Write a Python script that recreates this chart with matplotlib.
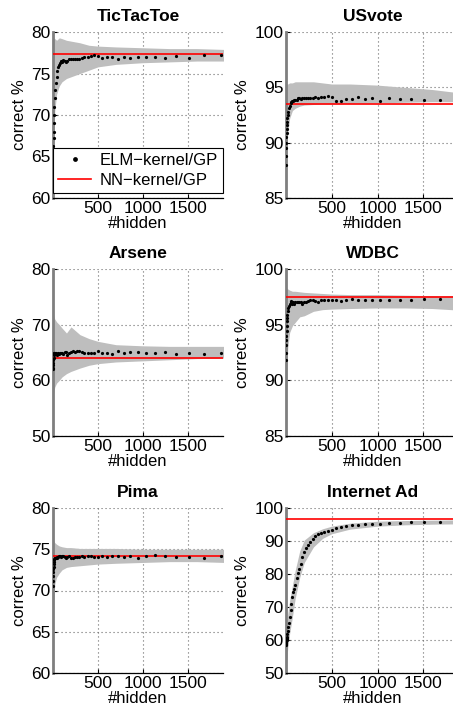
import matplotlib
matplotlib.use("Agg")
import matplotlib.pyplot as plt

plt.rcParams['font.family'] = ['Liberation Sans', 'DejaVu Sans']

# number of hidden neurons at which the ELM kernel was evaluated
HIDDEN = [1, 2, 3, 4, 5, 6, 8, 10, 12, 15, 20, 25, 30, 40, 50, 60, 70, 80, 90, 100,
          115, 130, 145, 160, 180, 200, 220, 240, 265, 290, 320, 350, 385, 420, 460,
          500, 550, 600, 660, 720, 790, 860, 940, 1030, 1130, 1240, 1370, 1510, 1680, 1870]

# x positions of the std band
BAND_X = [1, 3, 6, 10, 20, 40, 70, 100, 150, 200, 300, 400, 500, 700, 1000, 1300, 1600, 1900]

# TicTacToe
tictactoe_acc = [62.5, 63.5, 64.5, 65.5, 66.3, 67.2, 68.0, 69.0, 70.0, 71.0, 72.0, 73.0, 73.8, 74.6,
                 75.3, 75.8, 76.0, 76.3, 76.5, 76.4, 76.6, 76.5, 76.4, 76.5, 76.7, 76.7, 76.8, 76.7,
                 76.8, 76.8, 76.9, 77.0, 77.0, 77.1, 77.2, 77.1, 76.9, 77.0, 77.0, 76.8, 77.0, 76.9,
                 77.0, 77.0, 77.0, 76.9, 77.1, 76.9, 77.2, 77.2]
tictactoe_upper = [80, 79.8, 79.5, 79.3, 79.2, 79.0, 79.3, 79.2, 79.0, 78.9, 78.7, 78.4, 78.3, 78.2,
                   78.1, 78.0, 78.0, 77.9]
tictactoe_lower = [60, 62, 65, 67.5, 70.5, 72.5, 73.5, 74.0, 74.4, 74.6, 75.0, 75.4, 75.8, 76.1,
                   76.3, 76.4, 76.5, 76.5]
tictactoe_nn = 77.3

# USvote
usvote_acc = [88.0, 88.8, 89.5, 90.0, 90.5, 90.9, 91.2, 91.6, 91.9, 92.2, 92.5, 92.8, 93.1, 93.3,
              93.6, 93.7, 93.8, 93.8, 93.9, 93.9, 93.9, 94.0, 94.0, 93.95, 94.0, 94.0, 94.0, 94.05,
              94.0, 94.05, 94.1, 94.05, 94.1, 94.15, 94.2, 94.1, 93.8, 93.8, 93.95, 93.95, 94.1,
              93.95, 94.05, 93.8, 94.0, 93.95, 93.95, 93.9, 93.9, 93.9]
usvote_upper = [100, 96, 95.4, 95.3, 95.3, 95.4, 95.4, 95.5, 95.5, 95.5, 95.5, 95.4, 95.3, 95.3,
                95.2, 95.0, 94.8, 94.5]
usvote_lower = [85, 86, 88, 89.5, 91.0, 92.2, 92.9, 93.1, 93.3, 93.4, 93.45, 93.5, 93.5, 93.55,
                93.6, 93.65, 93.7, 93.7]
usvote_nn = 93.5

# Arsene
arsene_acc = [62.0, 62.3, 62.8, 63.2, 63.6, 64.0, 64.5, 64.8, 65.0, 65.0, 64.8, 65.0, 64.9, 64.6,
              64.8, 64.9, 64.7, 64.9, 65.0, 65.0, 64.8, 65.1, 65.1, 64.5, 65.0, 65.1, 65.2, 65.1,
              65.3, 65.2, 65.1, 65.0, 64.9, 64.9, 65.0, 65.2, 65.0, 64.9, 64.8, 65.3, 65.0, 65.1,
              65.1, 64.9, 64.9, 65.1, 64.8, 64.9, 64.7, 64.9]
arsene_upper = [73, 72.5, 72, 71.5, 71, 70.5, 70, 69.4, 68.5, 69.6, 68.2, 67.5, 67.0, 66.4,
                66.2, 66.1, 66.1, 66.1]
arsene_lower = [55, 56.5, 57.5, 58.0, 58.8, 59.5, 60.0, 60.6, 61.2, 61.6, 62.2, 62.7, 63.0, 63.3,
                63.5, 63.7, 63.9, 64.0]
arsene_nn = 64.0

# WDBC
wdbc_acc = [91.8, 92.5, 93.2, 93.6, 94.0, 94.4, 94.9, 95.3, 95.6, 95.9, 96.2, 96.5, 96.7, 96.9,
            97.0, 97.1, 96.9, 97.0, 96.9, 97.0, 97.0, 97.0, 97.0, 97.0, 96.9, 97.0, 97.0, 97.1,
            97.2, 97.2, 97.1, 97.0, 97.2, 97.2, 97.2, 97.2, 97.2, 97.1, 97.25, 97.3, 97.2, 97.2,
            97.2, 97.2, 97.2, 97.2, 97.2, 97.3, 97.3, 97.2]
wdbc_upper = [98.4, 98.4, 98.3, 98.3, 98.2, 98.1, 98.0, 98.0, 97.95, 97.9, 97.85, 97.8, 97.75,
              97.7, 97.7, 97.65, 97.6, 97.6]
wdbc_lower = [85, 87, 89, 91, 93, 94.3, 94.9, 95.2, 95.7, 95.8, 96.2, 96.35, 96.4, 96.45, 96.5,
              96.5, 96.45, 96.3]
wdbc_nn = 97.5

# Pima
pima_acc = [70.5, 71.1, 71.8, 72.3, 72.6, 72.9, 73.2, 73.5, 73.7, 73.8, 73.9, 74.0, 74.0, 74.0,
            74.1, 74.1, 74.2, 74.2, 74.1, 74.2, 74.2, 74.1, 74.0, 74.1, 74.2, 74.0, 74.0, 74.1,
            74.1, 74.1, 74.2, 74.1, 74.2, 74.2, 74.1, 74.1, 74.2, 74.1, 74.2, 74.2, 74.1, 74.2,
            74.0, 74.2, 74.3, 74.2, 74.1, 74.1, 74.0, 74.2]
pima_upper = [77, 76.5, 76.2, 76.0, 75.8, 75.6, 75.4, 75.3, 75.2, 75.2, 75.1, 75.1, 75.1, 75.1,
              75.0, 75.0, 75.0, 75.0]
pima_lower = [60, 62, 66, 69, 70.8, 71.6, 72.1, 72.5, 72.8, 72.9, 73.0, 73.1, 73.2, 73.3, 73.4,
              73.5, 73.5, 73.4]
pima_nn = 74.2

# Internet Ad
internetad_acc = [58.5, 58.8, 59.1, 59.4, 59.7, 60.0, 60.2, 60.5, 61.0, 61.7, 62.8, 64.0, 65.2,
                  67.0, 69.0, 71.0, 73.0, 74.5, 75.5, 76.8, 78.8, 80.2, 81.4, 83.0, 85.3, 86.8,
                  88.0, 88.8, 89.8, 90.6, 91.4, 92.0, 92.4, 92.8, 93.1, 93.4, 93.8, 94.1, 94.5,
                  94.7, 94.9, 95.1, 95.25, 95.2, 95.4, 95.6, 95.7, 95.7, 95.8, 95.8]
internetad_upper = [62, 63, 64, 65, 68, 72, 76.5, 81, 87.0, 90.3, 92.5, 93.7, 94.5, 95.4, 96.0,
                    96.2, 96.3, 96.4]
internetad_lower = [50, 51, 52, 54, 58, 62, 67, 72.5, 79, 83.5, 88.2, 90.8, 92.2, 93.6, 94.5,
                    94.9, 95.1, 95.2]
internetad_nn = 96.7

W, H = 453, 713
TICK_FS = 12.5
LABEL_FS = 12
TITLE_FS = 12.5


def add_panel(fig, box, title, acc, lower, upper, nn, yticks, legend=False):
    left, top, right, bottom = box
    ax = fig.add_axes([left / W, 1 - bottom / H, (right - left) / W, (bottom - top) / H])
    ax.fill_between(BAND_X, lower, upper, color='#bebebe', linewidth=0, zorder=1)
    ax.plot(HIDDEN, acc, 'o', color='k', ms=2.3, mew=0, zorder=4, label='ELM\u2212kernel/GP')
    ax.axhline(nn, color='#ff0000', lw=1.2, zorder=3, label='NN\u2212kernel/GP')

    ax.set_xlim(0, 1890)
    ax.set_ylim(yticks[0], yticks[-1])
    ax.set_xticks([500, 1000, 1500])
    ax.set_yticks(yticks)
    ax.set_axisbelow(True)
    ax.grid(True, linestyle=(0, (1, 2.6)), color='#6a6a6a', linewidth=0.8)

    ax.spines['top'].set_visible(False)
    ax.spines['right'].set_visible(False)
    ax.spines['left'].set_color('#7f7f7f')
    ax.spines['left'].set_linewidth(2)
    ax.spines['bottom'].set_linewidth(0.9)
    ax.tick_params(direction='in', length=3, labelsize=TICK_FS, pad=2)

    ax.set_title(title, fontsize=TITLE_FS, fontweight='bold', pad=8)
    ax.set_xlabel('#hidden', fontsize=LABEL_FS, labelpad=0)
    ax.set_ylabel('correct %', fontsize=LABEL_FS, labelpad=3)

    if legend:
        leg = ax.legend(loc='lower right', bbox_to_anchor=(1.0, 0.03), borderaxespad=0,
                        fontsize=LABEL_FS, fancybox=False, framealpha=1, edgecolor='k',
                        markerscale=1.5, handlelength=2.0, borderpad=0.3, labelspacing=0.3,
                        handletextpad=0.5)
        leg.get_frame().set_linewidth(0.8)
    return ax


def main():
    fig = plt.figure(figsize=(W / 100, H / 100), dpi=100)

    left_col = (53, 223)
    right_col = (286, 459)
    rows = [(32, 198), (269, 436), (508, 673)]

    panels = [
        ("TicTacToe", tictactoe_acc, tictactoe_lower, tictactoe_upper, tictactoe_nn,
         [60, 65, 70, 75, 80], left_col, rows[0], True),
        ("USvote", usvote_acc, usvote_lower, usvote_upper, usvote_nn,
         [85, 90, 95, 100], right_col, rows[0], False),
        ("Arsene", arsene_acc, arsene_lower, arsene_upper, arsene_nn,
         [50, 60, 70, 80], left_col, rows[1], False),
        ("WDBC", wdbc_acc, wdbc_lower, wdbc_upper, wdbc_nn,
         [85, 90, 95, 100], right_col, rows[1], False),
        ("Pima", pima_acc, pima_lower, pima_upper, pima_nn,
         [60, 65, 70, 75, 80], left_col, rows[2], False),
        ("Internet Ad", internetad_acc, internetad_lower, internetad_upper, internetad_nn,
         [50, 60, 70, 80, 90, 100], right_col, rows[2], False),
    ]

    for title, acc, lower, upper, nn, yticks, col, row, legend in panels:
        box = (col[0], row[0], col[1], row[1])
        add_panel(fig, box, title, acc, lower, upper, nn, yticks, legend)

    fig.savefig("out.png", dpi=100)


if __name__ == "__main__":
    main()
